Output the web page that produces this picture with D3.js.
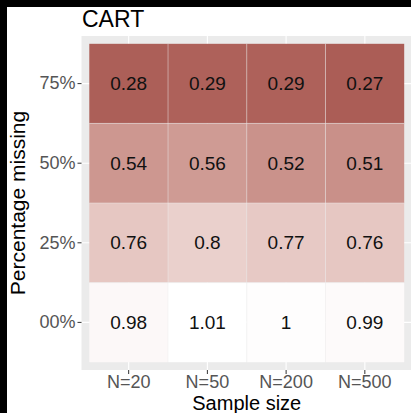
<!DOCTYPE html>
<html>
<head>
<meta charset="utf-8">
<script src="https://cdn.jsdelivr.net/npm/d3@7"></script>
<style>
  html, body { margin: 0; padding: 0; background: #fff; }
  svg { display: block; font-family: "Liberation Sans", Arial, sans-serif; }
</style>
</head>
<body>
<svg id="chart" width="411" height="413"></svg>
<script>
// Sample sizes (columns) and missingness levels (rows, top to bottom)
const sampleSizes = ["N=20", "N=50", "N=200", "N=500"];
const missingLevels = ["75%", "50%", "25%", "00%"];

// Ratio values for CART, one array per missingness level
const values75 = [0.28, 0.29, 0.29, 0.27];
const values50 = [0.54, 0.56, 0.52, 0.51];
const values25 = [0.76, 0.8, 0.77, 0.76];
const values00 = [0.98, 1.01, 1, 0.99];

const rows = [values75, values50, values25, values00];
const cells = [];
missingLevels.forEach((lvl, i) => {
  sampleSizes.forEach((n, j) => cells.push({ lvl, n, v: rows[i][j] }));
});

const svg = d3.select("#chart");

// frame bands along top and left edges
svg.append("rect").attr("x", 0).attr("y", 0).attr("width", 411).attr("height", 7).attr("fill", "#000");
svg.append("rect").attr("x", 0).attr("y", 0).attr("width", 7).attr("height", 413).attr("fill", "#000");

const panel = { x0: 81.5, x1: 412, y0: 36, y1: 370 };
const pad = 7.8;

const x = d3.scaleBand().domain(sampleSizes).range([panel.x0 + pad, panel.x1 - pad]).padding(0);
const y = d3.scaleBand().domain(missingLevels).range([panel.y0 + pad, panel.y1 - pad]).padding(0);

const allVals = cells.map(d => d.v);
const color = d3.scaleLinear()
  .domain([d3.min(allVals), d3.max(allVals)])
  .range(["#ab5d56", "#ffffff"])
  .interpolate(d3.interpolateLab);

// panel background
svg.append("rect")
  .attr("x", panel.x0).attr("y", panel.y0)
  .attr("width", panel.x1 - panel.x0).attr("height", panel.y1 - panel.y0)
  .attr("fill", "#ebebeb");

// major grid lines
const grid = svg.append("g").attr("stroke", "#fff").attr("stroke-width", 1.1);
sampleSizes.forEach(n => {
  const cx = x(n) + x.bandwidth() / 2;
  grid.append("line").attr("x1", cx).attr("x2", cx).attr("y1", panel.y0).attr("y2", panel.y1);
});
missingLevels.forEach(l => {
  const cy = y(l) + y.bandwidth() / 2;
  grid.append("line").attr("x1", panel.x0).attr("x2", panel.x1).attr("y1", cy).attr("y2", cy);
});

// tiles
svg.append("g").selectAll("rect").data(cells).join("rect")
  .attr("x", d => x(d.n)).attr("y", d => y(d.lvl))
  .attr("width", x.bandwidth()).attr("height", y.bandwidth())
  .attr("fill", d => color(d.v));

// faint seams between neighbouring tiles
const seams = svg.append("g").attr("stroke", "#ebebeb").attr("stroke-opacity", 0.45).attr("stroke-width", 1);
sampleSizes.slice(1).forEach(n => {
  seams.append("line").attr("x1", x(n)).attr("x2", x(n)).attr("y1", y.range()[0]).attr("y2", y.range()[1]);
});
missingLevels.slice(1).forEach(l => {
  seams.append("line").attr("x1", x.range()[0]).attr("x2", x.range()[1]).attr("y1", y(l)).attr("y2", y(l));
});

// value labels
svg.append("g").selectAll("text").data(cells).join("text")
  .attr("x", d => x(d.n) + x.bandwidth() / 2)
  .attr("y", d => y(d.lvl) + y.bandwidth() / 2)
  .attr("text-anchor", "middle").attr("dominant-baseline", "central")
  .attr("font-size", 19).attr("fill", "#111")
  .text(d => d.v);

// axes
const xAxis = svg.append("g").attr("transform", `translate(0,${panel.y1})`)
  .call(d3.axisBottom(x).tickSize(4).tickPadding(1.5));
const yAxis = svg.append("g").attr("transform", `translate(${panel.x0},0)`)
  .call(d3.axisLeft(y).tickSize(4).tickPadding(2));
[xAxis, yAxis].forEach(a => {
  a.select(".domain").remove();
  a.selectAll(".tick line").attr("stroke", "#333").attr("stroke-width", 1);
  a.selectAll(".tick text").attr("fill", "#555").attr("font-size", 18)
    .attr("font-family", "Liberation Sans, Arial, sans-serif");
});

// titles
svg.append("text").attr("x", 82).attr("y", 27).attr("font-size", 23).attr("fill", "#000").text("CART");
svg.append("text")
  .attr("x", (panel.x0 + panel.x1) / 2).attr("y", 410)
  .attr("text-anchor", "middle").attr("font-size", 20).attr("fill", "#000")
  .text("Sample size");
svg.append("text")
  .attr("transform", `translate(25,${(panel.y0 + panel.y1) / 2}) rotate(-90)`)
  .attr("text-anchor", "middle").attr("font-size", 21).attr("fill", "#000")
  .text("Percentage missing");
</script>
</body>
</html>
